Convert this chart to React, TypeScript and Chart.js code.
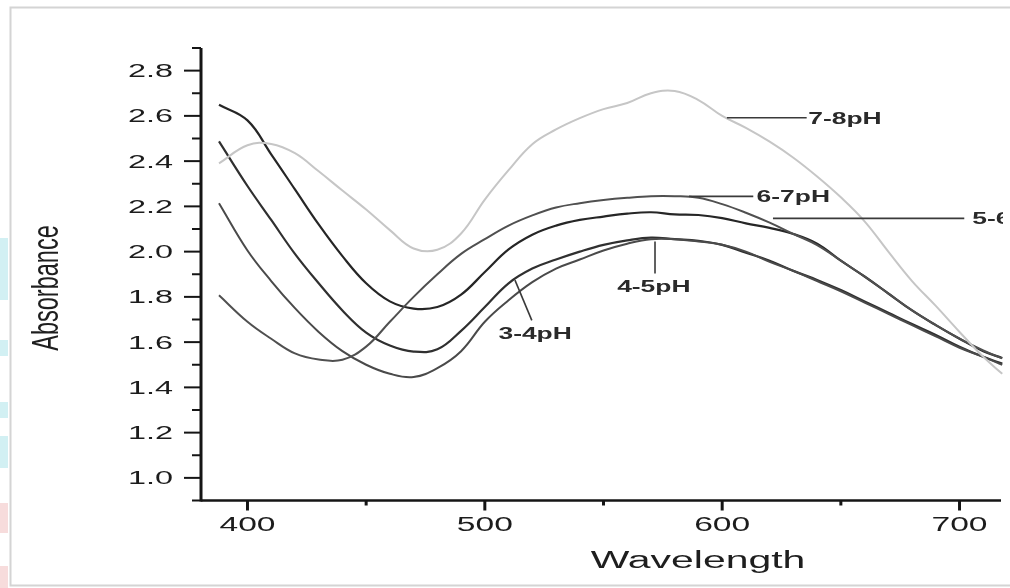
import React, { useEffect, useRef } from "react";
import { Chart, registerables } from "chart.js";

Chart.register(...registerables);

// ---- data ----
const wavelengths = [388, 400, 410, 420, 430, 440, 450, 460, 470, 480, 490, 500, 510, 520, 530, 540, 550, 560, 570, 580, 590, 600, 610, 620, 630, 640, 650, 660, 670, 680, 690, 700, 710, 718];

const ph78 = [2.39, 2.47, 2.476, 2.435, 2.355, 2.27, 2.186, 2.095, 2.014, 2.008, 2.08, 2.23, 2.36, 2.475, 2.54, 2.59, 2.63, 2.657, 2.7, 2.71, 2.67, 2.6, 2.547, 2.486, 2.415, 2.332, 2.24, 2.134, 2.0, 1.87, 1.76, 1.645, 1.535, 1.46];
const ph67 = [1.807, 1.69, 1.615, 1.55, 1.523, 1.522, 1.58, 1.69, 1.8, 1.9, 1.99, 2.055, 2.115, 2.16, 2.195, 2.214, 2.228, 2.238, 2.245, 2.245, 2.238, 2.21, 2.172, 2.128, 2.078, 2.029, 1.96, 1.89, 1.815, 1.74, 1.675, 1.615, 1.563, 1.528];
const ph56 = [2.649, 2.58, 2.43, 2.275, 2.12, 1.98, 1.86, 1.78, 1.748, 1.755, 1.81, 1.91, 2.01, 2.075, 2.115, 2.14, 2.155, 2.168, 2.174, 2.165, 2.162, 2.148, 2.125, 2.105, 2.078, 2.035, 1.96, 1.89, 1.815, 1.74, 1.675, 1.615, 1.56, 1.53];
const ph34 = [2.487, 2.29, 2.14, 1.99, 1.86, 1.74, 1.642, 1.585, 1.558, 1.568, 1.65, 1.755, 1.86, 1.925, 1.965, 2.0, 2.03, 2.05, 2.062, 2.055, 2.048, 2.03, 1.995, 1.96, 1.915, 1.875, 1.83, 1.78, 1.73, 1.68, 1.632, 1.58, 1.535, 1.505];
const ph45 = [2.214, 2.005, 1.87, 1.75, 1.645, 1.56, 1.5, 1.46, 1.446, 1.485, 1.56, 1.69, 1.785, 1.865, 1.925, 1.965, 2.005, 2.035, 2.055, 2.055, 2.045, 2.03, 2.0, 1.955, 1.915, 1.87, 1.825, 1.775, 1.725, 1.675, 1.625, 1.575, 1.535, 1.5];

const seriesNames = ["7-8pH", "6-7pH", "5-6pH", "4-5pH", "3-4pH"];

const xMajorTicks = [400, 500, 600, 700];
const xMinorTicks = [450, 550, 650];
const yMajorTicks = [1.0, 1.2, 1.4, 1.6, 1.8, 2.0, 2.2, 2.4, 2.6, 2.8];
const yMinorTicks = [0.9, 1.1, 1.3, 1.5, 1.7, 1.9, 2.1, 2.3, 2.5, 2.7, 2.9];

const xTitle = "Wavelength";
const yTitle = "Absorbance";

// label leader lines (data coordinates)
const labelDefs = [
  { text: "7-8pH", from: [602, 2.592], to: [635.6, 2.592], at: [636.3, 2.59], align: "left" },
  { text: "6-7pH", from: [586, 2.244], to: [613.1, 2.244], at: [614.5, 2.243], align: "left" },
  { text: "5-6pH", from: [621.4, 2.147], to: [702, 2.147], at: [705.4, 2.147], align: "left" },
  { text: "4-5pH", from: [571.7, 2.045], to: [571.7, 1.903], at: [571.2, 1.848], align: "center" },
  { text: "3-4pH", from: [512.7, 1.874], to: [519.8, 1.696], at: [521.2, 1.641], align: "center" },
];

const FONT = "'Liberation Sans', Arial, Helvetica, sans-serif";

function drawStretched(
  ctx: CanvasRenderingContext2D,
  text: string,
  x: number,
  baselineY: number,
  font: string,
  align: string,
  sx: number,
  color: string
) {
  ctx.save();
  ctx.font = font;
  ctx.fillStyle = color;
  ctx.textBaseline = "alphabetic";
  ctx.textAlign = "left";
  const w = ctx.measureText(text).width * sx;
  let left = x;
  if (align === "center") left = x - w / 2;
  else if (align === "right") left = x - w;
  ctx.translate(left, baselineY);
  ctx.scale(sx, 1);
  ctx.fillText(text, 0, 0);
  ctx.restore();
}

const framePlugin = {
  id: "frame",
  beforeDraw(chart: any) {
    const ctx: CanvasRenderingContext2D = chart.ctx;
    ctx.save();
    ctx.fillStyle = "#ffffff";
    ctx.fillRect(0, 0, chart.width, chart.height);
    // faint coloured slivers on the left edge of the scan
    const slivers = [
      [238, 300, "#d2f0f3"],
      [340, 356, "#d2f0f3"],
      [402, 418, "#d2f0f3"],
      [436, 468, "#d2f0f3"],
      [503, 533, "#f7dcdc"],
      [566, 588, "#f7dcdc"],
    ];
    for (const [a, b, c] of slivers as any) {
      ctx.fillStyle = c;
      ctx.fillRect(0, a, 8, b - a);
    }
    // outer frame
    ctx.strokeStyle = "#d4d4d4";
    ctx.lineWidth = 2;
    ctx.beginPath();
    ctx.moveTo(1012, 7.5);
    ctx.lineTo(10.5, 7.5);
    ctx.lineTo(10.5, 585.5);
    ctx.lineTo(1012, 585.5);
    ctx.stroke();
    ctx.restore();
  },
};

const axesPlugin = {
  id: "customAxes",
  afterDatasetsDraw(chart: any) {
    const ctx: CanvasRenderingContext2D = chart.ctx;
    const xs = chart.scales.x;
    const ys = chart.scales.y;
    const area = chart.chartArea;
    const axisX = Math.round(area.left) + 1;
    const axisY = area.bottom;
    ctx.save();
    ctx.strokeStyle = "#151515";
    // y axis line
    ctx.lineWidth = 3;
    ctx.beginPath();
    ctx.moveTo(axisX, area.top);
    ctx.lineTo(axisX, axisY + 1);
    ctx.stroke();
    // x axis line
    ctx.lineWidth = 2.5;
    ctx.beginPath();
    ctx.moveTo(axisX, axisY);
    ctx.lineTo(area.right - 6, axisY);
    ctx.stroke();
    // y ticks
    ctx.lineWidth = 2;
    for (const v of yMajorTicks) {
      const py = ys.getPixelForValue(v);
      ctx.beginPath();
      ctx.moveTo(axisX - 17, py);
      ctx.lineTo(axisX, py);
      ctx.stroke();
      drawStretched(ctx, v.toFixed(1), 173, py + 6.5, `18px ${FONT}`, "right", 1.8, "#1c1c1c");
    }
    for (const v of yMinorTicks) {
      const py = ys.getPixelForValue(v);
      ctx.beginPath();
      ctx.moveTo(axisX - 9, py);
      ctx.lineTo(axisX, py);
      ctx.stroke();
    }
    // x ticks
    ctx.lineWidth = 3;
    for (const v of xMajorTicks) {
      const px = xs.getPixelForValue(v);
      ctx.beginPath();
      ctx.moveTo(px, axisY);
      ctx.lineTo(px, axisY + 10);
      ctx.stroke();
      drawStretched(ctx, String(v), px, 531, `20px ${FONT}`, "center", 1.68, "#1c1c1c");
    }
    for (const v of xMinorTicks) {
      const px = xs.getPixelForValue(v);
      ctx.beginPath();
      ctx.moveTo(px, axisY);
      ctx.lineTo(px, axisY + 5);
      ctx.stroke();
    }
    // axis titles
    drawStretched(ctx, xTitle, 698, 568, `23px ${FONT}`, "center", 1.78, "#1e1e1e");
    ctx.save();
    ctx.translate(48, 288);
    ctx.scale(1.6, 1);
    ctx.rotate(-Math.PI / 2);
    ctx.font = `23.5px ${FONT}`;
    ctx.fillStyle = "#1e1e1e";
    ctx.textAlign = "center";
    ctx.textBaseline = "middle";
    ctx.fillText(yTitle, 0, 0);
    ctx.restore();

    // series labels with leader lines (clipped like the cropped scan)
    ctx.save();
    ctx.beginPath();
    ctx.rect(0, 0, 1003, chart.height);
    ctx.clip();
    ctx.strokeStyle = "#3a3a3a";
    ctx.lineWidth = 1.6;
    for (const d of labelDefs) {
      ctx.beginPath();
      ctx.moveTo(xs.getPixelForValue(d.from[0]), ys.getPixelForValue(d.from[1]));
      ctx.lineTo(xs.getPixelForValue(d.to[0]), ys.getPixelForValue(d.to[1]));
      ctx.stroke();
      const tx = xs.getPixelForValue(d.at[0]);
      const ty = ys.getPixelForValue(d.at[1]);
      drawStretched(ctx, d.text, tx, ty + 5.8, `bold 16px ${FONT}`, d.align, 1.65, "#2a2a2a");
    }
    ctx.restore();
    ctx.restore();
  },
};

export default function App() {
  const ref = useRef<HTMLCanvasElement>(null);

  useEffect(() => {
    const canvas = ref.current;
    if (!canvas) return;
    const values = [ph78, ph67, ph56, ph45, ph34];
    const colors = ["#c6c6c6", "#505050", "#262626", "#4a4a4a", "#303030"];
    const widths = [2, 2, 2.2, 2, 2.2];
    const chart = new Chart(canvas, {
      type: "line",
      data: {
        datasets: values.map((vals, i) => ({
          label: seriesNames[i],
          data: wavelengths.map((w, j) => ({ x: w, y: vals[j] })),
          borderColor: colors[i],
          borderWidth: widths[i],
          pointRadius: 0,
          fill: false,
          tension: 0.4,
        })),
      },
      options: {
        animation: false,
        responsive: false,
        events: [],
        layout: { padding: { left: 200, top: 48, right: 3, bottom: 87.5 } },
        scales: {
          x: { type: "linear", min: 380, max: 720, display: false },
          y: { type: "linear", min: 0.9, max: 2.9, display: false },
        },
        plugins: {
          legend: { display: false },
          tooltip: { enabled: false },
        },
      },
      plugins: [framePlugin, axesPlugin],
    });
    return () => chart.destroy();
  }, []);

  return (
    <div style={{ position: "fixed", left: 0, top: 0, width: 1010, height: 588, background: "#fff" }}>
      <canvas ref={ref} width={1010} height={588} style={{ display: "block" }} />
    </div>
  );
}
